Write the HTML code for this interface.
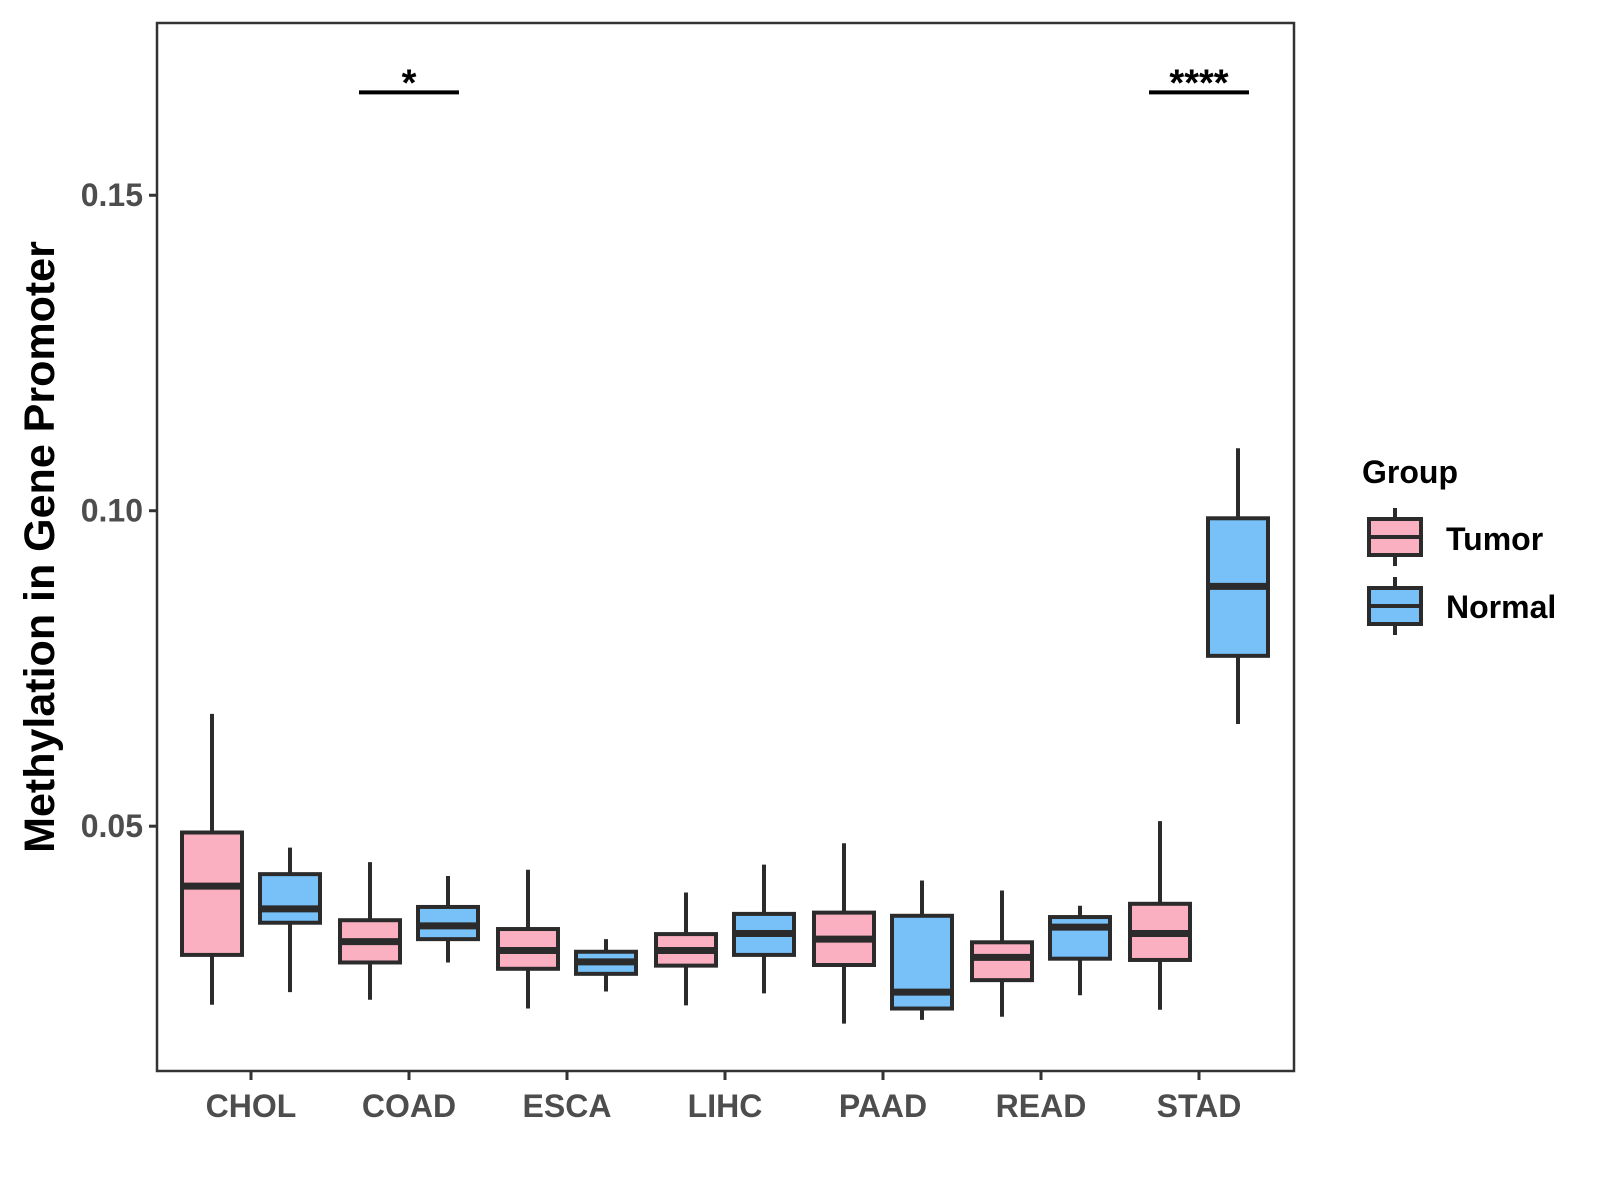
<!DOCTYPE html>
<html><head><meta charset="utf-8"><style>
html,body{margin:0;padding:0;background:#fff;}
svg{display:block;font-family:"Liberation Sans",sans-serif;}
</style></head><body>
<svg id="chart" width="1600" height="1200" viewBox="0 0 1600 1200" xmlns="http://www.w3.org/2000/svg">
<rect x="0" y="0" width="1600" height="1200" fill="#fff"/>
<g id="plot"></g>
<text x="0" y="0" transform="translate(54,547) rotate(-90)" text-anchor="middle" font-size="43" font-weight="bold" fill="#000">Methylation in Gene Promoter</text>
<g>
<text x="1362" y="483" font-size="32" font-weight="bold" fill="#000">Group</text>
<g>
<line x1="1395" y1="508" x2="1395" y2="566" stroke="#2b2b2b" stroke-width="4"/>
<rect x="1369" y="519" width="52" height="36" fill="#FBB0C1" stroke="#2b2b2b" stroke-width="4"/>
<line x1="1369" y1="537" x2="1421" y2="537" stroke="#2b2b2b" stroke-width="4"/>
<text x="1446" y="550" font-size="32" font-weight="bold" fill="#000">Tumor</text>
</g>
<g>
<line x1="1395" y1="577" x2="1395" y2="635" stroke="#2b2b2b" stroke-width="4"/>
<rect x="1369" y="588" width="52" height="36" fill="#77C1F8" stroke="#2b2b2b" stroke-width="4"/>
<line x1="1369" y1="606" x2="1421" y2="606" stroke="#2b2b2b" stroke-width="4"/>
<text x="1446" y="618" font-size="32" font-weight="bold" fill="#000">Normal</text>
</g>
</g>
</svg>
<script>
const categories = ["CHOL","COAD","ESCA","LIHC","PAAD","READ","STAD"];
// [lowerWhisker, q1, median, q3, upperWhisker]
const tumorStats = [
 [0.0217,0.0296,0.0405,0.0490,0.0678],
 [0.0225,0.0284,0.0317,0.0351,0.0443],
 [0.0211,0.0274,0.0303,0.0337,0.0431],
 [0.0216,0.0279,0.0303,0.0329,0.0395],
 [0.0187,0.0280,0.0321,0.0363,0.0473],
 [0.0198,0.0256,0.0292,0.0316,0.0398],
 [0.0209,0.0288,0.0330,0.0377,0.0508]
];
const normalStats = [
 [0.0237,0.0347,0.0369,0.0424,0.0466],
 [0.0284,0.0321,0.0342,0.0372,0.0421],
 [0.0238,0.0266,0.0285,0.0301,0.0321],
 [0.0235,0.0296,0.0330,0.0361,0.0439],
 [0.0193,0.0211,0.0237,0.0358,0.0414],
 [0.0232,0.0290,0.0340,0.0356,0.0374],
 [0.0662,0.0770,0.0880,0.0988,0.1099]
];
const yTicks = [0.05,0.10,0.15];
const yTickLabels = ["0.05","0.10","0.15"];
const sigCategories = ["COAD","STAD"];
const sigLabels = ["*","****"];
const sigLevel = [0.1663,0.1663];

const NS="http://www.w3.org/2000/svg";
const L=157,R=1294,T=23,B=1071;
const yMin=0.0112,yMax=0.1773;
function yS(v){return B-(v-yMin)/(yMax-yMin)*(B-T);}
function xS(i){return 251+i*158;}
const g=document.getElementById('plot');
function mk(tag,a){const e=document.createElementNS(NS,tag);for(const k in a)e.setAttribute(k,a[k]);g.appendChild(e);return e;}

yTicks.forEach((v,i)=>{
 const t=mk('line',{x1:L-8,x2:L,y1:yS(v),y2:yS(v),stroke:'#333','stroke-width':3});
 
 
 const tx=mk('text',{x:L-14,y:yS(v)+11,'text-anchor':'end','font-size':32,'font-weight':'bold',fill:'#4d4d4d'});
 tx.textContent=yTickLabels[i];
 
 
});
categories.forEach((c,i)=>{
 const t=mk('line',{x1:xS(i),x2:xS(i),y1:B,y2:B+9,stroke:'#333','stroke-width':3});
 
 
 const tx=mk('text',{x:xS(i),y:1117,'text-anchor':'middle','font-size':32,'font-weight':'bold',fill:'#4d4d4d'});
 tx.textContent=c;
 
 
});
function box(cx,s,fill,name){
 const w=mk('line',{x1:cx,x2:cx,y1:yS(s[0]),y2:yS(s[4]),stroke:'#2b2b2b','stroke-width':4});
 
 
 const r=mk('rect',{x:cx-30,width:60,y:yS(s[3]),height:yS(s[1])-yS(s[3]),fill:fill,stroke:'#2b2b2b','stroke-width':4});
 
 
 const m=mk('line',{x1:cx-30,x2:cx+30,y1:yS(s[2]),y2:yS(s[2]),stroke:'#2b2b2b','stroke-width':7});
 
 
}
categories.forEach((c,i)=>{
 box(xS(i)-39,tumorStats[i],'#FBB0C1','tumor-'+c.toLowerCase());
 box(xS(i)+39,normalStats[i],'#77C1F8','normal-'+c.toLowerCase());
});
sigCategories.forEach((c,k)=>{
 const i=categories.indexOf(c);
 const y=yS(sigLevel[k]);
 const l=mk('line',{x1:xS(i)-50,x2:xS(i)+50,y1:y,y2:y,stroke:'#000','stroke-width':4});
 
 
 const t=mk('text',{x:xS(i),y:y+3,'text-anchor':'middle','font-size':38,'font-weight':'bold',fill:'#000'});
 t.textContent=sigLabels[k];
 
 
});
const fr=mk('rect',{x:L,y:T,width:R-L,height:B-T,fill:'none',stroke:'#333','stroke-width':2.5});


</script>
</body></html>
